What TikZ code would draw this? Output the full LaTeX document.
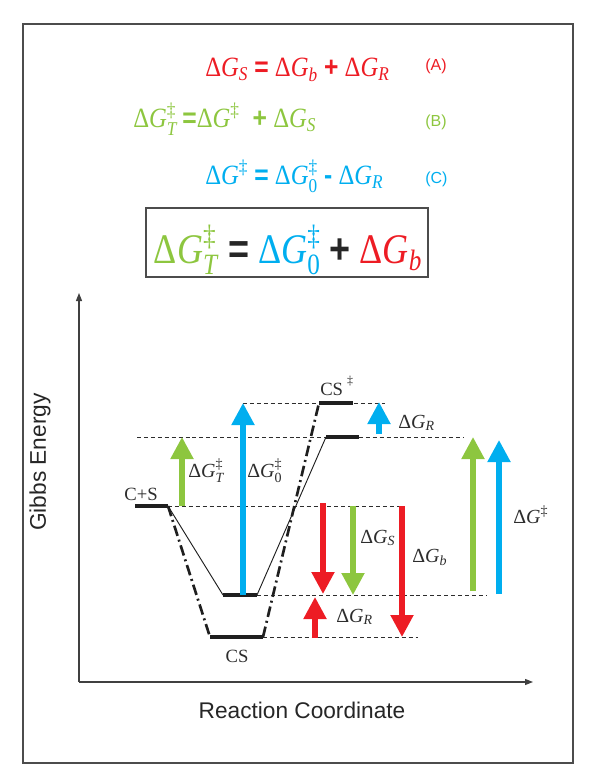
\documentclass[tikz,border=0pt]{standalone}
\usepackage{fontspec}
\setmainfont{Liberation Serif}
\newfontfamily\arialf{Liberation Sans}
\usepackage{amsmath}
\usepackage{graphicx}
\usetikzlibrary{arrows.meta}
\definecolor{cred}{RGB}{237,28,36}
\definecolor{cgreen}{RGB}{141,198,63}
\definecolor{cblue}{RGB}{0,174,239}
\definecolor{cgray}{RGB}{45,45,45}
\newcommand\myDG{\text{Δ\textit{G}}}
\newcommand\myT[1]{\text{#1}}
\newcommand\opb[1]{{\arialf\bfseries #1}}
\begin{document}
\begin{tikzpicture}[x=0.75pt,y=-0.75pt,
  frame/.style={draw=black!70,line width=1.5pt},
  axis/.style={draw=black!75,line width=0.9pt,-{Triangle[length=6pt,width=4.5pt]}},
  lvl/.style={draw=cgray,line width=0.6pt,dash pattern=on 3pt off 2.2pt},
  bar/.style={line width=2.8pt,draw=black!88},
  solidpath/.style={line width=0.7pt,draw=black!88},
  dashdot/.style={line width=2pt,draw=black!88,dash pattern=on 8pt off 3pt on 1.5pt off 3pt},
  bigarrow/.style={line width=3.8pt,-{Triangle[length=16.5pt,width=16.5pt]}},
  lab/.style={text=cgray,font=\fontsize{15}{17}\selectfont,inner sep=0pt,anchor=base west},
  eq/.style={font=\fontsize{18.5}{21}\selectfont,inner sep=0pt,anchor=base west},
  tag/.style={font=\arialf\fontsize{12}{14}\selectfont,inner sep=0pt,anchor=base west},
  axlab/.style={font=\arialf\fontsize{17}{20}\selectfont,text=black!85,inner sep=0pt},
]
\useasboundingbox (0,0) rectangle (600,781);
% outer frame
\draw[frame] (22.5,24) rectangle (573,763);

% equations
\node[eq,text=cred] (eqA) at (205,77) {\scalebox{1}[1.13]{$\myDG_{\myT{\textit{S}}}$ \opb{=} $\myDG_{\myT{\textit{b}}}$ \opb{+} $\myDG_{\myT{\textit{R}}}$}};
\node[tag,text=cred] (tagA) at (425,71) {(A)};
\node[eq,text=cgreen] (eqB) at (133,128) {\scalebox{1}[1.13]{$\myDG^{\myT{‡}}_{\myT{\textit{T}}}$\,\opb{=}$\myDG^{\myT{‡}}$\; \opb{+} $\myDG_{\myT{\textit{S}}}$}};
\node[tag,text=cgreen] (tagB) at (425,127) {(B)};
\node[eq,text=cblue] (eqC) at (205,185) {\scalebox{1}[1.13]{$\myDG^{\myT{‡}}$ \opb{=} $\myDG^{\myT{‡}}_{\myT{0}}$ \opb{-} $\myDG_{\myT{\textit{R}}}$}};
\node[tag,text=cblue] (tagC) at (425,183) {(C)};

% boxed equation
\node[frame,minimum width=211.5pt,minimum height=51.75pt,inner sep=0pt] (box) at (287,242.5) {};
\node[font=\fontsize{27}{30}\selectfont,inner sep=0pt,anchor=base] (eqMain) at (288,263)
  {\scalebox{1}[1.17]{\textcolor{cgreen}{$\myDG^{\myT{‡}}_{\myT{\textit{T}}}$} \textcolor{black!85}{\opb{=}} \textcolor{cblue}{$\myDG^{\myT{‡}}_{\myT{0}}$} \textcolor{black!85}{\opb{+}} \textcolor{cred}{$\myDG_{\myT{\textit{b}}}$}}};

% axes
\coordinate (origin) at (79,682);
\coordinate (ytop) at (79,293);
\coordinate (xend) at (533,682);
\draw[axis] (origin) -- (ytop);
\draw[axis] (origin) -- (xend);
\node[axlab,rotate=90] (ylab) at (40,462) {Gibbs Energy};
\node[axlab] (xlab) at (302,710) {Reaction Coordinate};

% level end points
\coordinate (csL) at (135,506); \coordinate (csR) at (168,506);
\coordinate (bL) at (223,595);  \coordinate (bR) at (257,595);
\coordinate (cL) at (210,637);  \coordinate (cR) at (263,637);
\coordinate (tL) at (326,437);  \coordinate (tR) at (359,437);
\coordinate (sL) at (319,403);  \coordinate (sR) at (353,403);

% dashed levels
\draw[lvl] (243,403) -- (385,403);
\draw[lvl] (137,437) -- (463,437);
\draw[lvl] (csR) -- (402,506);
\draw[lvl] (bR) -- (487,595);
\draw[lvl] (cR) -- (418,637);

% reaction paths
\draw[solidpath] (csR) -- (bL);
\draw[solidpath] (bR) -- (tL);
\draw[dashdot] (csR) -- (cL);
\draw[dashdot] (cR) -- (sL);

% bars
\draw[bar] (csL) -- (csR);
\draw[bar] (bL) -- (bR);
\draw[bar] (cL) -- (cR);
\draw[bar] (tL) -- (tR);
\draw[bar] (sL) -- (sR);

% level labels
\node[text=cgray,font=\fontsize{14}{16}\selectfont,inner sep=0pt,anchor=base] (lCpS) at (141,500) {C+S};
\node[text=cgray,font=\fontsize{14}{16}\selectfont,inner sep=0pt,anchor=base] (lCS) at (237,662) {CS};
\node[text=cgray,font=\fontsize{14}{16}\selectfont,inner sep=0pt,anchor=base west] (lCSd) at (320,395) {CS\hspace{3pt}\raisebox{0.55em}{\fontsize{9}{10}\selectfont ‡}};

% arrows
\draw[bigarrow,cgreen] (182,506) -- (182,437);
\draw[bigarrow,cblue] (243,595) -- (243,403);
\draw[bigarrow,cblue] (379,434) -- (379,402);
\draw[bigarrow,cred] (323,503) -- (323,594);
\draw[bigarrow,cgreen] (353,506) -- (353,595);
\draw[bigarrow,cred] (315,638) -- (315,597);
\draw[bigarrow,cred] (402,506) -- (402,637);
\draw[bigarrow,cgreen] (473,591) -- (473,437);
\draw[bigarrow,cblue] (499,594) -- (499,440);

% arrow labels
\node[lab] (gT) at (188,477) {$\myDG^{\myT{‡}}_{\myT{\textit{T}}}$};
\node[lab] (g0) at (247,477) {$\myDG^{\myT{‡}}_{\myT{0}}$};
\node[lab] (gRu) at (398,428) {$\myDG_{\myT{\textit{R}}}$};
\node[lab] (gS) at (360,543) {$\myDG_{\myT{\textit{S}}}$};
\node[lab] (gb) at (412,562) {$\myDG_{\myT{\textit{b}}}$};
\node[lab] (gRl) at (336,622) {$\myDG_{\myT{\textit{R}}}$};
\node[lab] (gd) at (513,523) {$\myDG^{\myT{‡}}$};
\end{tikzpicture}
\end{document}
